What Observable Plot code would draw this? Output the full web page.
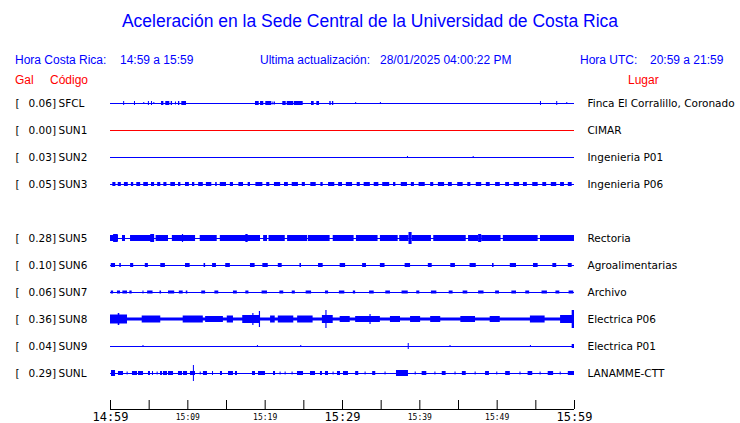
<!DOCTYPE html>
<html><head><meta charset="utf-8">
<script src="https://cdn.jsdelivr.net/npm/d3@7"></script>
<script src="https://cdn.jsdelivr.net/npm/@observablehq/plot@0.6"></script>
<style>
body{margin:0;background:#fff;}
#wrap{position:relative;width:740px;height:423px;overflow:hidden;background:#fff;}
#head{position:relative;width:740px;height:90px;font-family:"Liberation Sans",Arial,sans-serif;}
#head div{position:absolute;white-space:pre;font-size:12px;line-height:12px;color:#0000ff;}
#head div.title{left:0;width:740px;text-align:center;font-size:17.5px;line-height:18px;top:12px;}
#head div.red{color:#ff0000;}
#chart svg{display:block;overflow:visible;}
</style></head>
<body><div id="wrap"><div id="head"></div><div id="chart"></div></div>
<script>
// ---- text content ----
const titleText = "Aceleración en la Sede Central de la Universidad de Costa Rica";
const headerTexts = [
  {t:"Hora Costa Rica:", x:15, y:54, red:false},
  {t:"14:59 a 15:59", x:120, y:54, red:false},
  {t:"Ultima actualización:", x:260, y:54, red:false},
  {t:"28/01/2025 04:00:22 PM", x:380, y:54, red:false},
  {t:"Hora UTC:", x:580, y:54, red:false},
  {t:"20:59 a 21:59", x:650, y:54, red:false},
  {t:"Gal", x:15, y:74, red:true},
  {t:"Código", x:50, y:74, red:true},
  {t:"Lugar", x:628, y:74, red:true}
];

// ---- stations ----
const codes = ["SFCL","SUN1","SUN2","SUN3","SUN5","SUN6","SUN7","SUN8","SUN9","SUNL"];
const slots = [0,1,2,3,5,6,7,8,9,10];
const peakGal = [0.06,0.00,0.03,0.05,0.28,0.10,0.06,0.36,0.04,0.29];
const places = ["Finca El Corralillo, Coronado","CIMAR","Ingenieria P01","Ingenieria P06","Rectoria","Agroalimentarias","Archivo","Electrica P06","Electrica P01","LANAMME-CTT"];
const traceColors = ["#0000ff","#ff0000","#0000ff","#0000ff","#0000ff","#0000ff","#0000ff","#0000ff","#0000ff","#0000ff"];

// ---- time axis (minutes after 14:59) ----
const tickMinutes = [0,5,10,15,20,25,30,35,40,45,50,55,60];
const bigLabels = [[0,"14:59"],[30,"15:29"],[60,"15:59"]];
const smallLabels = [[10,"15:09"],[20,"15:19"],[40,"15:39"],[50,"15:49"]];

// ---- trace envelopes: [start min, end min, half amplitude] ----
const burstsSFCL = [[1.7,1.8,2],[3.1,3.2,2],[4.3,4.4,1],[4.9,5.0,2],[5.3,5.4,2],[5.6,5.7,1],[6.6,6.9,2],[7.15,7.67,2],[7.85,8.02,2],[8.4,8.5,1.5],[8.79,8.96,2],[9.22,9.83,2],[18.75,19.23,2],[19.4,19.82,2],[20.08,20.86,2],[21.0,21.1,1.5],[21.2,21.3,1.5],[22.28,22.72,2],[22.85,23.7,2],[23.79,24.92,2],[25.99,26.34,2],[26.68,27.03,2],[28.36,28.54,2],[28.7,28.87,2],[31.7,31.8,1],[34.9,35.0,1],[55.6,55.7,2],[57.7,57.8,2],[59.0,59.1,1]];
const burstsSUN1 = [];
const burstsSUN2 = [[38.4,38.5,1],[46.9,47.0,1]];
const burstsSUN3 = [[0.3,0.7,2],[1.0,1.4,2],[1.8,2.3,2],[2.7,3.0,2],[3.4,3.9,2],[4.3,4.9,2],[5.3,5.7,2],[6.1,6.5,2],[6.9,7.3,2],[7.8,8.4,2],[8.8,9.1,2],[9.7,10.2,2],[10.6,10.9,2],[11.4,12.0,2],[12.4,13.1,2],[13.6,13.8,2],[14.2,15.0,2],[15.5,15.9,2],[16.6,17.2,2],[17.8,18.1,2],[18.8,19.7,2],[20.2,20.6,2],[21.2,22.0,2],[22.5,23.0,2],[23.5,24.3,2],[24.8,25.2,2],[25.9,26.6,2],[27.2,27.5,2],[28.2,29.0,2],[29.5,30.0,2],[30.5,31.3,2],[31.9,32.3,2],[32.8,33.6,2],[34.1,34.7,2],[35.2,36.1,2],[36.6,36.9,2],[37.6,38.4,2],[38.9,39.3,2],[39.9,40.7,2],[41.4,41.8,2],[42.4,43.2,2],[43.7,44.2,2],[44.9,45.6,2],[46.2,46.6,2],[47.3,48.0,2],[48.6,49.1,2],[49.8,50.4,2],[51.1,51.6,2],[52.2,52.9,2],[53.4,53.9,2],[54.6,55.3,2],[55.9,56.4,2],[57.0,57.7,2],[58.2,58.7,2],[59.2,59.7,2]];
const burstsSUN5 = [[0,1.03,3],[0.4,1.0,4],[1.55,1.94,3],[2.59,5.7,3],[5.2,5.7,4],[5.9,7.5,3],[8.0,11.0,3],[9.3,9.45,4],[11.6,13.8,3],[14.2,19.4,3],[17.5,17.8,4],[19.8,20.3,3],[20.5,22.6,3],[22.9,25.5,3],[25.6,28.4,3],[28.8,31.5,3],[31.8,34.6,3],[34.9,37.2,3],[37.4,38.6,3],[38.6,39.0,6],[39.0,41.5,3],[41.8,46.0,3],[46.3,47.6,3],[47.6,48.0,4],[48.0,50.5,3],[50.8,55.3,3],[55.6,60,3]];
const burstsSUN6 = [[0.1,0.65,2],[1.2,1.4,2],[2.6,3.0,2],[4.5,4.9,2],[6.5,7.1,2],[9.7,10.3,2],[12.1,12.3,2],[13.2,13.7,2],[14.9,15.5,2],[18.1,18.7,2],[19.7,20.4,2],[21.7,22.2,2],[24.5,24.7,2],[26.9,27.5,2],[29.7,30.4,2],[32.6,33.1,2],[34.9,35.5,2],[38.1,38.8,2],[41.1,41.6,2],[44.0,44.6,2],[46.5,47.3,2],[49.4,49.6,2],[51.7,52.5,2],[54.7,55.3,2],[57.2,57.7,2],[59.2,59.7,2]];
const burstsSUN7 = [[0.1,0.4,1.5],[0.9,1.3,1.5],[1.6,2.2,1.5],[2.5,2.8,1.5],[4.2,4.3,1.5],[4.8,5.5,1.5],[6.4,6.6,1.5],[7.5,8.3,1.5],[8.9,9.4,1.5],[9.8,10.0,1.5],[11.8,12.3,1.5],[13.5,14.0,1.5],[15.9,16.4,1.5],[17.5,17.9,1.5],[19.6,20.3,1.5],[21.9,22.4,1.5],[23.5,23.9,1.5],[25.3,26.0,1.5],[27.8,28.2,1.5],[29.6,30.3,1.5],[31.4,31.7,1.5],[33.5,34.1,1.5],[35.6,36.2,1.5],[37.7,38.5,1.5],[39.6,40.0,1.5],[41.5,42.2,1.5],[43.8,44.3,1.5],[45.6,46.2,1.5],[47.6,48.3,1.5],[49.8,50.3,1.5],[51.9,52.5,1.5],[53.7,54.2,1.5],[55.8,56.5,1.5],[57.6,58.1,1.5],[59.3,59.9,1.5]];
const burstsSUN8 = [[0,60,1.5],[0,2.2,4.5],[1.0,1.2,6],[4.1,6.5,3.5],[9.4,12.0,3.5],[12.3,14.6,3],[15.1,15.9,3.5],[17.1,19.4,4],[18.4,18.55,6],[19.25,19.4,8],[20.7,21.3,3.5],[21.7,23.7,3.5],[24.2,26.2,3.5],[27.4,28.8,4],[27.85,28.0,9],[29.7,31.0,3],[31.7,34.9,3],[33.55,33.7,5],[36.2,37.5,3],[38.8,40.1,3],[41.4,42.7,3],[45.3,47.2,3],[49.1,50.4,3],[54.3,56.2,3.5],[58.2,60,4],[59.7,60,9]];
const burstsSUN9 = [[4.2,4.3,1],[19.0,19.1,1],[24.6,24.7,1],[38.5,38.6,3],[43.9,44.0,1],[54.3,54.4,1],[59.7,60,2]];
const burstsSUNL = [[0.13,0.65,3],[1.03,1.68,2],[2.15,2.25,1.5],[2.84,3.49,2],[3.62,4.27,2],[4.91,5.17,2],[5.43,5.56,2],[6.03,6.13,1.5],[6.47,6.72,2],[6.85,7.37,2],[7.5,8.15,2],[8.79,9.31,2],[9.44,9.96,2],[10.34,10.99,2],[10.72,10.82,8],[11.6,11.7,1.5],[12.02,12.54,2],[13.19,13.32,2],[14.22,14.48,2],[15.26,15.9,2],[16.16,16.42,2],[18.36,18.75,2],[19.14,20.04,2],[21.08,21.34,2],[21.93,22.03,1.5],[22.58,22.68,1.5],[23.48,23.58,1.5],[24.18,24.96,2],[25.86,26.51,2],[27.15,27.41,2],[27.8,28.19,2],[28.78,28.88,1.5],[29.35,29.74,2],[30.13,30.77,2],[31.7,32.1,2],[32.92,33.02,1.5],[33.9,34.3,2],[35.5,35.6,1.5],[36.98,38.53,3],[39.4,39.5,1.5],[40.3,40.9,2],[41.95,42.05,1.5],[42.9,43.4,2],[44.55,44.65,1.5],[45.5,46.0,2],[47.15,47.25,1.5],[48.5,49.0,2],[49.95,50.05,1.5],[51.1,51.7,2],[52.95,53.05,1.5],[54.0,54.6,2],[55.55,55.65,1.5],[56.6,57.3,2],[58.15,58.25,1.5],[59.2,60,2]];
const burstsByCode = {SFCL:burstsSFCL,SUN1:burstsSUN1,SUN2:burstsSUN2,SUN3:burstsSUN3,SUN5:burstsSUN5,SUN6:burstsSUN6,SUN7:burstsSUN7,SUN8:burstsSUN8,SUN9:burstsSUN9,SUNL:burstsSUNL};

// ---- header (HTML) ----
const head = document.getElementById("head");
const t = document.createElement("div"); t.className="title"; t.textContent = titleText; head.appendChild(t);
headerTexts.forEach(h => { const d = document.createElement("div"); if (h.red) d.className="red"; d.textContent=h.t; d.style.left=h.x+"px"; d.style.top=h.y+"px"; head.appendChild(d); });

// ---- chart ----
const ROW = 27;           // trace units between rows
const AXIS = 306;         // trace-unit level of time axis line
const TICK = 9;           // tick length in trace units
const stations = codes.map((c,i)=>({code:c, slot:slots[i], gal:peakGal[i], place:places[i], color:traceColors[i]}));
const burstRows = [];
stations.forEach(s => (burstsByCode[s.code]||[]).forEach(([t0,t1,a]) => burstRows.push({t0, t1: Math.max(t1, t0+0.13), a, yc: s.slot*ROW, color: s.color})));

const lab = {fontFamily:"DejaVu Sans", fontSize:10.5, fill:"#000"};
const chart = Plot.plot({
  width:740, height:333,
  marginLeft:110, marginRight:166, marginTop:0, marginBottom:0,
  x:{domain:[0,60], range:[110,574], axis:null},
  y:{domain:[0,270], range:[13,283], axis:null},
  marks:[
    Plot.ruleY(stations, {y:d=>d.slot*ROW, x1:0, x2:60, stroke:d=>d.color, strokeWidth:1}),
    Plot.rect(burstRows, {x1:"t0", x2:"t1", y1:d=>d.yc-d.a, y2:d=>d.yc+d.a, fill:d=>d.color}),
    Plot.text(stations, {...lab, x:()=>0, y:d=>d.slot*ROW, text:()=>"[", textAnchor:"start", dx:-95}),
    Plot.text(stations, {...lab, x:()=>0, y:d=>d.slot*ROW, text:d=>d.gal.toFixed(2)+"]", textAnchor:"end", dx:-54.5}),
    Plot.text(stations, {...lab, x:()=>0, y:d=>d.slot*ROW, text:"code", textAnchor:"start", dx:-52}),
    Plot.text(stations, {...lab, x:()=>60, y:d=>d.slot*ROW, text:"place", textAnchor:"start", dx:13}),
    Plot.ruleY([AXIS], {x1:0, x2:60, stroke:"#000", strokeWidth:1}),
    Plot.ruleX(tickMinutes, {x:d=>d, y1:AXIS-TICK, y2:AXIS, stroke:"#000", strokeWidth:1}),
    Plot.text(bigLabels, {x:d=>d[0], y:()=>AXIS, text:d=>d[1], fontFamily:"DejaVu Sans Mono", fontSize:12, lineAnchor:"top", dy:3, fill:"#000"}),
    Plot.text(smallLabels, {x:d=>d[0], y:()=>AXIS, text:d=>d[1], fontFamily:"DejaVu Sans Mono", fontSize:8, lineAnchor:"top", dy:5, fill:"#000"})
  ]
});
document.getElementById("chart").appendChild(chart);
</script>
</body></html>
